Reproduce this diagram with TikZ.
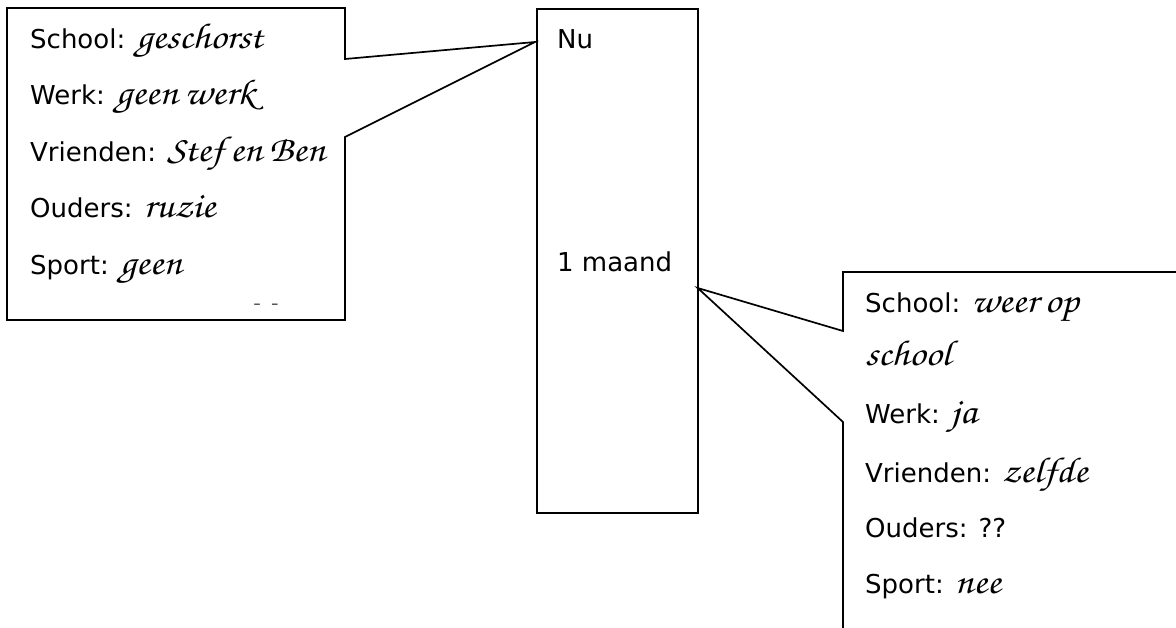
\documentclass[tikz,border=0pt]{standalone}
\usepackage{fontspec}
\setmainfont{DejaVu Sans}
\newfontfamily\handfont[FakeStretch=1.12]{TeX Gyre Chorus}
\usetikzlibrary{calc}
\newcommand\hw[1]{{\handfont\fontsize{36}{40}\selectfont\spaceskip=0.18em\relax #1}}
\begin{document}
\begin{tikzpicture}[x=1pt,y=-1pt,
  outline/.style={draw=black,line width=1.7pt,line join=miter},
  lbl/.style={anchor=base west,inner sep=0pt,font=\fontsize{26}{30}\selectfont}]
\useasboundingbox (0,0) rectangle (1176,627);
\clip (0,0) rectangle (1176,627);
% middle time box
\node[outline,minimum width=161pt,minimum height=504pt,anchor=north west,inner sep=0pt] (mid) at (536,8) {};
\coordinate (nutip) at ($(mid.north west)+(-1,34)$);
\coordinate (mtip) at ($(mid.north east)+(-1,280)$);
\node[lbl] (nu) at (557,48) {Nu};
\node[lbl] (maand) at (557,271) {1 maand};
% left callout
\draw[outline] (7,8) -- (345,8) -- (345,59) -- (nutip) -- (345,137) -- (345,320) -- (7,320) -- cycle;
\node[lbl] (l1) at (30,48) {School: \hw{geschorst}};
\node[lbl] (l2) at (30,104.5) {Werk: \hw{geen werk}};
\node[lbl] (l3) at (30,161) {Vrienden: \hw{Stef en Ben}};
\node[lbl] (l4) at (30,217.5) {Ouders: \hw{ruzie}};
\node[lbl] (l5) at (30,274) {Sport: \hw{geen}};
\node[inner sep=0pt,font=\fontsize{14}{16}\selectfont] (marks) at (266,306) {–\hspace{11pt}–};
% right callout
\draw[outline] (1190,272) -- (843,272) -- (843,331) -- (mtip) -- (843,422) -- (843,640);
\node[lbl] (r1) at (865,312) {School: \hw{weer op}};
\node[lbl] (r2) at (865,365) {\hw{school}};
\node[lbl] (r3) at (865,423) {Werk: \hw{ja}};
\node[lbl] (r4) at (865,482) {Vrienden: \hw{zelfde}};
\node[lbl] (r5) at (865,537) {Ouders: ??};
\node[lbl] (r6) at (865,593) {Sport: \hw{nee}};
\end{tikzpicture}
\end{document}
